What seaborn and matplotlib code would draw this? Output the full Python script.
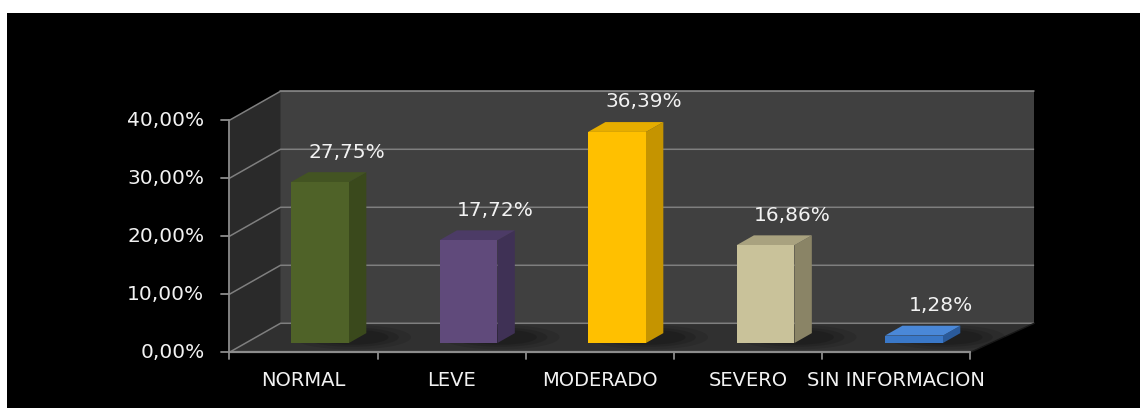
import matplotlib
matplotlib.use("Agg")
import matplotlib.pyplot as plt
from matplotlib.patches import Polygon, Rectangle, Ellipse
import seaborn as sns
import pandas as pd

# ---- data ----
categories = ["NORMAL", "LEVE", "MODERADO", "SEVERO", "SIN INFORMACION"]
values = [27.75, 17.72, 36.39, 16.86, 1.28]
value_labels = ["27,75%", "17,72%", "36,39%", "16,86%", "1,28%"]
y_ticks = [0, 10, 20, 30, 40]
y_tick_labels = ["0,00%", "10,00%", "20,00%", "30,00%", "40,00%"]

front_colors = ["#4f6228", "#604a7b", "#ffc000", "#c9c29a", "#3a78c8"]
side_colors = ["#3a491c", "#3f3155", "#c59400", "#8a8466", "#2a5a9a"]
top_colors = ["#435422", "#4c3b66", "#e6ad00", "#a9a27f", "#4a88d8"]

sns.set_theme(style="white")
plt.rcParams["font.family"] = ["DejaVu Sans"]

W, H, DPI = 1140, 408, 100
fig = plt.figure(figsize=(W / DPI, H / DPI), dpi=DPI, facecolor="white")
# black slide background with a thin white margin on the top and left
fig.patches.append(Rectangle((7 / W, 0), 1, (H - 13) / H, transform=fig.transFigure,
                             facecolor="black", edgecolor="none", zorder=-10))
ax = fig.add_axes([0, 0, 1, 1])
ax.patch.set_alpha(0)

df = pd.DataFrame({"cat": categories, "val": values})
sns.barplot(data=df, x="cat", y="val", hue="cat", palette=front_colors, width=0.39,
            saturation=1, legend=False, ax=ax, zorder=5, edgecolor="none", linewidth=0)
bars = sorted([p for p in ax.patches if isinstance(p, Rectangle)], key=lambda p: p.get_x())

# data window: one category = 148.5 px, 1 % = 5.8 px
PX_X, PX_Y = 148.5, 5.8
ax.set_xlim(-320 / PX_X, (W - 320) / PX_X)
ax.set_ylim((343 - H) / PX_Y, 343 / PX_Y)
ax.axis("off")

# oblique projection: d = 0 front edge, d = 1 back wall; bars stand at d = DB
DX, DY, DB = 0.344, 5.0, 0.32


def proj(x, v, d):
    s = 0.998 + 0.017 * d
    X = (x + 0.5) * s - 0.5 + DX * (d - DB)
    Y = v + DY * (d - DB)
    return (X, Y)


x0, x1 = -0.5, len(categories) - 0.5
ymax = y_ticks[-1]

# walls and floor
back = [proj(x0, 0, 1), proj(x1, 0, 1), proj(x1, ymax, 1), proj(x0, ymax, 1)]
side = [proj(x0, 0, 0), proj(x0, 0, 1), proj(x0, ymax, 1), proj(x0, ymax, 0)]
floor = [proj(x0, 0, 0), proj(x1, 0, 0), proj(x1, 0, 1), proj(x0, 0, 1)]
ax.add_patch(Polygon(back, closed=True, facecolor="#404040", edgecolor="none", zorder=1))
ax.add_patch(Polygon(side, closed=True, facecolor="#2a2a2a", edgecolor="none", zorder=1))
ax.add_patch(Polygon(floor, closed=True, facecolor="#303030", edgecolor="none", zorder=1))

grid_c = "#7f7f7f"
for t in y_ticks:
    a, b, c = proj(x0, t, 0), proj(x0, t, 1), proj(x1, t, 1)
    ax.plot([a[0], b[0], c[0]], [a[1], b[1], c[1]], color=grid_c, lw=1.1, zorder=2,
            solid_capstyle="butt")
# top edge of back wall and right edge of floor
tl, tr = proj(x0, ymax, 1), proj(x1, ymax, 1)
ax.plot([tl[0], tr[0]], [tl[1], tr[1]], color=grid_c, lw=1.1, zorder=2)
fr, br = proj(x1, 0, 0), proj(x1, 0, 1)
ax.plot([fr[0], br[0]], [fr[1], br[1]], color="#1a1a1a", lw=1, zorder=2)

# vertical value axis with ticks and labels
axis_c = "#8c8c8c"
p0, p1 = proj(x0, 0, 0), proj(x0, ymax, 0)
ax.plot([p0[0], p1[0]], [p0[1], p1[1]], color=axis_c, lw=1.3, zorder=3)
tick_len = 8 / PX_X
for t, lab in zip(y_ticks, y_tick_labels):
    px, py = proj(x0, t, 0)
    ax.plot([px - tick_len, px], [py, py], color=axis_c, lw=1.3, zorder=3)
    ax.text(px - 25 / PX_X, py, lab, color="#f2f2f2", fontsize=14.5, ha="right",
            va="center")

# horizontal category axis with ticks and labels
q0, q1 = proj(x0, 0, 0), proj(x1, 0, 0)
ax.plot([q0[0], q1[0]], [q0[1], q1[1]], color=axis_c, lw=1.6, zorder=3)
for k in range(len(categories) + 1):
    qx, qy = proj(x0 + k, 0, 0)
    ax.plot([qx, qx], [qy, qy - 7 / PX_Y], color=axis_c, lw=1.3, zorder=3)
for k, cat in enumerate(categories):
    qx, qy = proj(k, 0, 0)
    ax.text(qx, qy - 28 / PX_Y, cat, color="#f2f2f2", fontsize=14, ha="center",
            va="center")

# 3D sides, tops, floor shadows and value labels for each bar
ddx, ddy = DX * 0.34, DY * 0.34
for i, bar in enumerate(bars):
    bx0 = bar.get_x()
    bx1 = bx0 + bar.get_width()
    h = bar.get_height()
    for a, w in [(0.10, 1.7), (0.12, 1.35), (0.15, 1.05)]:
        ax.add_patch(Ellipse((bx1 + 0.02, 1.0), w * bar.get_width() * 1.2, 4.2 * w / 1.7,
                             facecolor="black", alpha=a, edgecolor="none", zorder=2.5))
    side_poly = [(bx1, 0), (bx1 + ddx, ddy), (bx1 + ddx, h + ddy), (bx1, h)]
    top_poly = [(bx0, h), (bx1, h), (bx1 + ddx, h + ddy), (bx0 + ddx, h + ddy)]
    ax.add_patch(Polygon(side_poly, closed=True, facecolor=side_colors[i],
                         edgecolor="none", zorder=4))
    ax.add_patch(Polygon(top_poly, closed=True, facecolor=top_colors[i],
                         edgecolor="none", zorder=4))
    ax.text((bx0 + bx1) / 2 + 27 / PX_X, h + 30 / PX_Y, value_labels[i], color="#f2f2f2",
            fontsize=14.5, ha="center", va="center", zorder=6)

fig.savefig("out.png", dpi=DPI, facecolor=fig.get_facecolor())
